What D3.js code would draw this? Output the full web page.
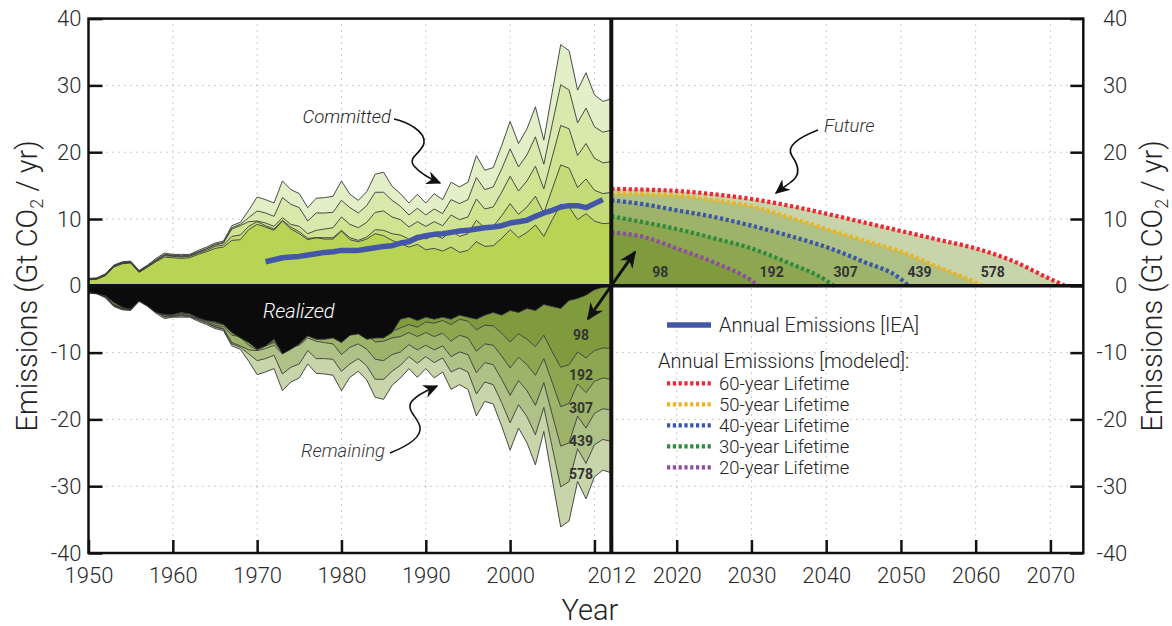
<!DOCTYPE html>
<html>
<head>
<meta charset="utf-8">
<script src="https://cdn.jsdelivr.net/npm/d3@7/dist/d3.min.js"></script>
<style>
    body { margin: 0; background: #fff; }
    svg text { font-family: Roboto, "Helvetica Neue", Arial, sans-serif; font-weight: 300; fill: #222; }
</style>
</head>
<body>
<div id="chart"></div>
<script>
// ======= data =======
var years = [1950,1951,1952,1953,1954,1955,1956,1957,1958,1959,
             1960,1961,1962,1963,1964,1965,1966,1967,1968,1969,
             1970,1971,1972,1973,1974,1975,1976,1977,1978,1979,
             1980,1981,1982,1983,1984,1985,1986,1987,1988,1989,
             1990,1991,1992,1993,1994,1995,1996,1997,1998,1999,
             2000,2001,2002,2003,2004,2005,2006,2007,2008,2009,
             2010,2011,2012];

// committed emissions per year of construction, by lifetime (Gt CO2/yr)
var c60 = [1.1,1.2,1.8,3.1,3.6,3.7,2.3,3.1,4.1,4.9,
           4.7,4.7,4.7,5.3,5.8,6.4,6.7,9.0,9.5,11.3,
           13.3,12.9,12.4,15.7,14.4,13.8,11.7,13.1,13.2,13.4,
           15.7,13.7,12.8,14.1,16.7,17.0,14.9,13.8,12.4,13.7,
           12.4,13.8,12.9,15.5,14.8,15.5,19.5,17.3,17.7,21.0,
           24.6,21.3,23.5,26.8,21.8,29.0,36.1,35.2,29.3,31.9,
           28.6,27.6,28.0];
var c50 = [1.0,1.1,1.7,3.0,3.5,3.6,2.2,3.0,3.9,4.7,
           4.6,4.5,4.6,5.1,5.6,6.2,6.5,8.7,9.2,10.2,
           11.2,10.9,10.4,13.2,12.2,11.7,9.7,10.9,10.9,11.0,
           12.8,11.7,10.9,12.0,14.0,14.0,12.8,11.9,10.6,11.6,
           10.6,11.5,10.8,12.9,12.3,12.9,16.2,14.4,14.8,17.5,
           20.5,17.8,19.6,22.3,18.2,24.2,30.1,29.3,24.4,26.6,
           23.8,23.0,23.3];
var c40 = [1.0,1.1,1.6,2.9,3.4,3.5,2.1,2.9,3.8,4.6,
           4.5,4.4,4.5,5.0,5.5,6.1,6.4,8.5,9.0,9.6,
           9.7,9.4,8.9,10.2,9.2,8.9,7.8,8.3,8.5,8.7,
           10.3,9.2,8.7,9.5,11.0,11.2,10.3,9.9,8.8,9.6,
           8.9,9.6,9.0,10.6,9.9,10.3,13.0,11.5,11.8,14.0,
           16.4,14.2,15.7,17.9,14.5,19.3,24.0,23.5,19.5,21.3,
           19.1,18.4,18.6];
var c30 = [0.9,1.0,1.6,2.9,3.4,3.5,2.1,2.9,3.7,4.5,
           4.4,4.3,4.4,4.9,5.3,5.9,6.1,7.4,7.6,8.9,
           9.6,9.0,8.5,9.8,8.8,8.1,7.1,7.2,7.2,7.2,
           8.3,7.2,6.8,7.3,8.4,8.3,7.8,7.6,7.0,7.6,
           7.0,7.6,7.1,8.3,7.4,7.8,9.8,8.7,8.9,10.5,
           12.3,10.7,11.8,13.4,10.9,14.5,18.1,17.6,14.7,16.0,
           14.3,13.8,14.0];
var c20 = [0.9,1.0,1.5,2.8,3.3,3.4,2.0,2.8,3.6,4.3,
           4.2,4.1,4.2,4.7,5.1,5.6,5.8,6.8,6.9,8.4,
           9.2,8.8,8.3,9.7,8.5,7.8,6.9,7.2,7.0,7.0,
           8.2,6.9,6.6,7.0,7.8,7.5,6.8,6.3,5.8,6.2,
           5.4,5.6,5.2,5.8,5.0,5.3,6.6,5.9,6.0,7.1,
           8.4,7.2,8.0,9.1,7.4,9.9,12.2,11.8,9.9,10.8,
           9.7,9.3,9.4];
// emissions already realized by 2012
var realized = [1.0,1.2,1.5,2.5,3.2,3.5,2.3,3.0,4.0,4.3,
                4.3,4.0,4.2,4.8,5.2,5.4,5.8,7.0,7.8,8.5,
                9.5,9.0,8.0,10.2,9.5,8.7,7.5,8.0,8.0,7.8,
                8.5,7.4,7.2,8.0,7.8,7.8,7.0,5.0,4.7,5.2,
                4.7,5.0,4.7,5.0,4.4,4.7,5.0,4.4,4.0,4.4,
                3.7,4.0,3.4,3.7,2.8,3.1,3.4,2.2,1.9,1.4,
                0.6,0.2,0.0];

// annual emissions [IEA]
var ieaYears = [1971,1972,1973,1974,1975,1976,1977,1978,1979,1980,
                1981,1982,1983,1984,1985,1986,1987,1988,1989,1990,
                1991,1992,1993,1994,1995,1996,1997,1998,1999,2000,
                2001,2002,2003,2004,2005,2006,2007,2008,2009,2010,2011];
var ieaValues = [3.6,3.9,4.2,4.3,4.4,4.6,4.8,5.0,5.1,5.3,
                 5.3,5.3,5.5,5.7,5.9,6.0,6.4,6.6,7.2,7.5,
                 7.7,7.8,8.0,8.2,8.3,8.5,8.7,8.8,9.0,9.4,
                 9.6,9.8,10.4,10.9,11.3,11.8,12.0,12.0,11.7,12.3,12.9];

// modeled future emissions of existing stock, by lifetime
var fut60Years = [2012,2016,2020,2025,2030,2035,2040,2045,2050,2055,2060,2065,2070,2072];
var fut60 = [14.5,14.4,14.2,13.7,13.0,12.0,10.8,9.5,8.2,6.9,5.6,3.7,1.0,0];
var fut50Years = [2012,2016,2020,2025,2030,2035,2040,2045,2050,2055,2060,2061];
var fut50 = [13.8,13.7,13.5,12.8,11.9,10.3,8.5,6.8,5.1,2.8,0.5,0];
var fut40Years = [2012,2016,2020,2025,2030,2035,2040,2045,2050,2051];
var fut40 = [12.8,12.2,11.3,10.3,9.0,7.5,5.8,3.6,1.0,0];
var fut30Years = [2012,2016,2020,2025,2030,2035,2040,2041];
var fut30 = [10.4,9.5,8.5,7.1,5.6,3.4,0.8,0];
var fut20Years = [2012,2016,2020,2025,2030,2031];
var fut20 = [8.0,7.3,5.6,3.5,0.8,0];

var lifetimeNames = ["60-year Lifetime","50-year Lifetime","40-year Lifetime","30-year Lifetime","20-year Lifetime"];
var bandLabels = ["98","192","307","439","578"];
var leftTicks = [1950,1960,1970,1980,1990,2000,2010,2012];
var unlabeledTicks = [2010];
var rightTicks = [2020,2030,2040,2050,2060,2070];
var yTicks = [-40,-30,-20,-10,0,10,20,30,40];

// ======= formatting =======
var width = 1172, height = 626;
var box = {left: 88.5, right: 1083.3, top: 18.6, bottom: 553, split: 611.3};
var upperFill = ["#b8d454","#c4dc77","#cfe391","#d9e9ab","#e3efc6"];
var bandFill = ["#7f9b3e","#8da750","#9cb369","#aec186","#c8d5ab"];
var lifeColors = ["#ee2636","#edb421","#3b55a8","#2f8a3f","#8d4ea0"];
var lineColor = "#383838";

// ======= scales =======
var xL = d3.scaleLinear().domain([1950, 2012]).range([box.left, box.split]);
var xR = d3.scaleLinear().domain([2012, 2020, 2074.4]).range([box.split, 676.7, box.right]);
var y = d3.scaleLinear().domain([-40, 40]).range([box.bottom, box.top]);

var svg = d3.select("#chart").append("svg")
    .attr("width", width)
    .attr("height", height);

// == arrowheads
var defs = svg.append("defs");
function addHead(id, size) {
    defs.append("marker")
        .attr("id", id)
        .attr("viewBox", "0 0 10 10")
        .attr("refX", 9).attr("refY", 5)
        .attr("markerUnits", "userSpaceOnUse")
        .attr("markerWidth", size).attr("markerHeight", size)
        .attr("orient", "auto-start-reverse")
        .append("path")
            .attr("d", "M0,0.5 L10,5 L0,9.5 L3,5 Z")
            .style("fill", "#111");
}
addHead("head", 15);
addHead("headBig", 17);

// ======= grid =======
var grid = svg.append("g").attr("class", "grid")
    .style("stroke", "#9a9a9a").style("stroke-width", 1).style("stroke-dasharray", "1,5");
grid.selectAll("line.v1").data(leftTicks.filter(function(d) { return d > 1950 && d < 2012; }))
    .enter().append("line")
        .attr("x1", function(d) { return xL(d); }).attr("x2", function(d) { return xL(d); })
        .attr("y1", box.top).attr("y2", box.bottom);
grid.selectAll("line.v2").data(rightTicks)
    .enter().append("line")
        .attr("x1", function(d) { return xR(d); }).attr("x2", function(d) { return xR(d); })
        .attr("y1", box.top).attr("y2", box.bottom);
grid.selectAll("line.h").data(yTicks.filter(function(d) { return Math.abs(d) < 40 && d != 0; }))
    .enter().append("line")
        .attr("x1", box.left).attr("x2", box.right)
        .attr("y1", function(d) { return y(d); }).attr("y2", function(d) { return y(d); });

// ======= historic stacks =======
var keys = ["c20","c30","c40","c50","c60"];
var rows = years.map(function(yr, i) {
    return {year: yr, c20: c20[i], c30: c30[i], c40: c40[i], c50: c50[i], c60: c60[i], realized: realized[i]};
});

var past = svg.append("g").attr("class", "past");

// == upper: committed
keys.forEach(function(k, i) {
    var area = d3.area()
        .x(function(d) { return xL(d.year); })
        .y0(function(d) { return i == 0 ? y(0) : y(d[keys[i - 1]]); })
        .y1(function(d) { return y(d[k]); });
    past.append("path").datum(rows).attr("d", area).style("fill", upperFill[i]);
});

// == lower: remaining
keys.forEach(function(k, i) {
    var area = d3.area()
        .x(function(d) { return xL(d.year); })
        .y0(function(d) { return i == 0 ? y(-d.realized) : y(-d[keys[i - 1]]); })
        .y1(function(d) { return y(-d[k]); });
    past.append("path").datum(rows).attr("d", area).style("fill", bandFill[i]);
});

keys.forEach(function(k) {
    var up = d3.line().x(function(d) { return xL(d.year); }).y(function(d) { return y(d[k]); });
    var down = d3.line().x(function(d) { return xL(d.year); }).y(function(d) { return y(-d[k]); });
    past.append("path").datum(rows).attr("d", up)
        .style("fill", "none").style("stroke", lineColor).style("stroke-width", 0.9);
    past.append("path").datum(rows).attr("d", down)
        .style("fill", "none").style("stroke", lineColor).style("stroke-width", 0.9);
});

// == realized (black)
var realizedArea = d3.area()
    .x(function(d) { return xL(d.year); })
    .y0(y(0))
    .y1(function(d) { return y(-d.realized); });
past.append("path").datum(rows).attr("d", realizedArea)
    .style("fill", "#0b0b0b").style("stroke", "#333").style("stroke-width", 0.9);

// ======= future =======
var futSets = [
    {years: fut60Years, values: fut60},
    {years: fut50Years, values: fut50},
    {years: fut40Years, values: fut40},
    {years: fut30Years, values: fut30},
    {years: fut20Years, values: fut20}
];
var future = svg.append("g").attr("class", "future");
futSets.forEach(function(s, i) {
    var pts = s.years.map(function(yr, j) { return {year: yr, v: s.values[j]}; });
    var area = d3.area().curve(d3.curveMonotoneX)
        .x(function(d) { return xR(d.year); })
        .y0(y(0))
        .y1(function(d) { return y(d.v); });
    future.append("path").datum(pts).attr("d", area).style("fill", bandFill[4 - i]);
    s.pts = pts;
});
futSets.forEach(function(s, i) {
    var line = d3.line().curve(d3.curveMonotoneX)
        .x(function(d) { return xR(d.year); })
        .y(function(d) { return y(d.v); });
    future.append("path").datum(s.pts).attr("d", line)
        .style("fill", "none")
        .style("stroke", lifeColors[i])
        .style("stroke-width", 4.2)
        .style("stroke-dasharray", "3.2,2.6");
});

// ======= IEA line =======
var ieaLine = d3.line()
    .x(function(d, i) { return xL(ieaYears[i]); })
    .y(function(d) { return y(d); });
svg.append("path").datum(ieaValues).attr("d", ieaLine)
    .style("fill", "none").style("stroke", "#4356a8").style("stroke-width", 5.5)
    .style("stroke-linejoin", "round");

// ======= frame, zero line, 2012 line =======
svg.append("line").attr("x1", box.left).attr("x2", box.right).attr("y1", y(0)).attr("y2", y(0))
    .style("stroke", "#111").style("stroke-width", 3.5);
svg.append("line").attr("x1", box.split).attr("x2", box.split).attr("y1", box.top).attr("y2", box.bottom)
    .style("stroke", "#111").style("stroke-width", 4);
svg.append("rect").attr("x", box.left).attr("y", box.top)
    .attr("width", box.right - box.left).attr("height", box.bottom - box.top)
    .style("fill", "none").style("stroke", "#111").style("stroke-width", 2.5);

// ======= axes =======
function styleAxis(g) {
    g.select(".domain").remove();
    g.selectAll(".tick line").style("stroke", "#111").style("stroke-width", 2.5);
    g.selectAll("text").style("font-size", "22px").style("fill", "#2a2a2a");
}
var fmt = function(d) { return unlabeledTicks.indexOf(d) >= 0 ? "" : String(d); };
svg.append("g").attr("transform", "translate(" + box.left + ",0)")
    .call(d3.axisLeft(y).tickValues(yTicks).tickSize(-14).tickPadding(7).tickFormat(fmt))
    .call(styleAxis);
svg.append("g").attr("transform", "translate(" + box.right + ",0)")
    .call(d3.axisRight(y).tickValues(yTicks).tickSize(-13).tickPadding(7).tickFormat(fmt))
    .call(styleAxis)
    .selectAll("text").attr("text-anchor", "end").attr("x", 44);
svg.append("g").attr("transform", "translate(0," + box.bottom + ")")
    .call(d3.axisBottom(xL).tickValues(leftTicks).tickSize(-13).tickPadding(14).tickFormat(fmt))
    .call(styleAxis);
svg.append("g").attr("transform", "translate(0," + box.bottom + ")")
    .call(d3.axisBottom(xR).tickValues(rightTicks).tickSize(-13).tickPadding(14).tickFormat(fmt))
    .call(styleAxis);

// == axis titles
function yTitle(x) {
    var t = svg.append("text")
        .attr("transform", "translate(" + x + "," + y(0) + ") rotate(-90)")
        .attr("text-anchor", "middle")
        .style("font-size", "29px");
    t.append("tspan").text("Emissions (Gt CO");
    t.append("tspan").text("2").attr("dy", 6).style("font-size", "18px");
    t.append("tspan").text(" / yr)").attr("dy", -6);
}
yTitle(37);
yTitle(1162);
svg.append("text").attr("x", 590).attr("y", 620).attr("text-anchor", "middle")
    .style("font-size", "29px").text("Year");

// ======= band labels =======
var labY = [-7.3, -13.3, -18.3, -23.2, -28.1];
var labYearsR = [2018, 2032.7, 2042.6, 2052.5, 2062.3];
bandLabels.forEach(function(lab, i) {
    svg.append("text").attr("x", xL(2008.4)).attr("y", y(labY[i]) + 5)
        .attr("text-anchor", "middle")
        .style("font-size", "14px").style("font-weight", 700).style("fill", "#333").text(lab);
    svg.append("text").attr("x", xR(labYearsR[i])).attr("y", y(2) + 5)
        .attr("text-anchor", "middle")
        .style("font-size", "14px").style("font-weight", 700).style("fill", "#333").text(lab);
});

// ======= annotations =======
function note(x, yy, txt, anchor, size, color) {
    svg.append("text").attr("x", x).attr("y", yy).attr("text-anchor", anchor)
        .style("font-size", size + "px").style("font-style", "italic")
        .style("fill", color).text(txt);
}
note(391, 123, "Committed", "end", 18.5, "#222");
note(824, 132, "Future", "start", 18.5, "#333");
note(263, 318, "Realized", "start", 20, "#fff");
note(385, 457, "Remaining", "end", 18.5, "#333");

function arrow(d, head, w) {
    svg.append("path").attr("d", d)
        .style("fill", "none").style("stroke", "#111").style("stroke-width", w)
        .attr("marker-end", "url(#" + head + ")");
}
arrow("M394,119 C408,122 426,132 424,143 C422,153 407,157 414,166 C420,173 428,178 440,183", "head", 1.6);
arrow("M818,130 C800,137 785,146 792,156 C799,166 801,175 791,182 C786,186 781,189 776,193", "head", 1.6);
arrow("M390,453 C405,447 422,438 420,427 C418,417 405,410 412,401 C418,394 428,390 437,386", "head", 1.6);
svg.append("line").attr("x1", 588).attr("y1", 319).attr("x2", 635).attr("y2", 252)
    .style("stroke", "#111").style("stroke-width", 3)
    .attr("marker-start", "url(#headBig)").attr("marker-end", "url(#headBig)");

// ======= legend =======
var legend = svg.append("g").attr("class", "legend");
legend.append("line").attr("x1", 667).attr("x2", 711).attr("y1", 325).attr("y2", 325)
    .style("stroke", "#4356a8").style("stroke-width", 5.5);
legend.append("text").attr("x", 719).attr("y", 332).style("font-size", "20px").text("Annual Emissions [IEA]");
legend.append("text").attr("x", 658).attr("y", 368).style("font-size", "20px").text("Annual Emissions [modeled]:");
lifetimeNames.forEach(function(name, i) {
    var ly = 383.3 + i * 21;
    legend.append("line").attr("x1", 667).attr("x2", 711).attr("y1", ly).attr("y2", ly)
        .style("stroke", lifeColors[i]).style("stroke-width", 4.2).style("stroke-dasharray", "3.2,2.6");
    legend.append("text").attr("x", 719).attr("y", ly + 6.5).style("font-size", "18.5px").text(name);
});
</script>
</body>
</html>
